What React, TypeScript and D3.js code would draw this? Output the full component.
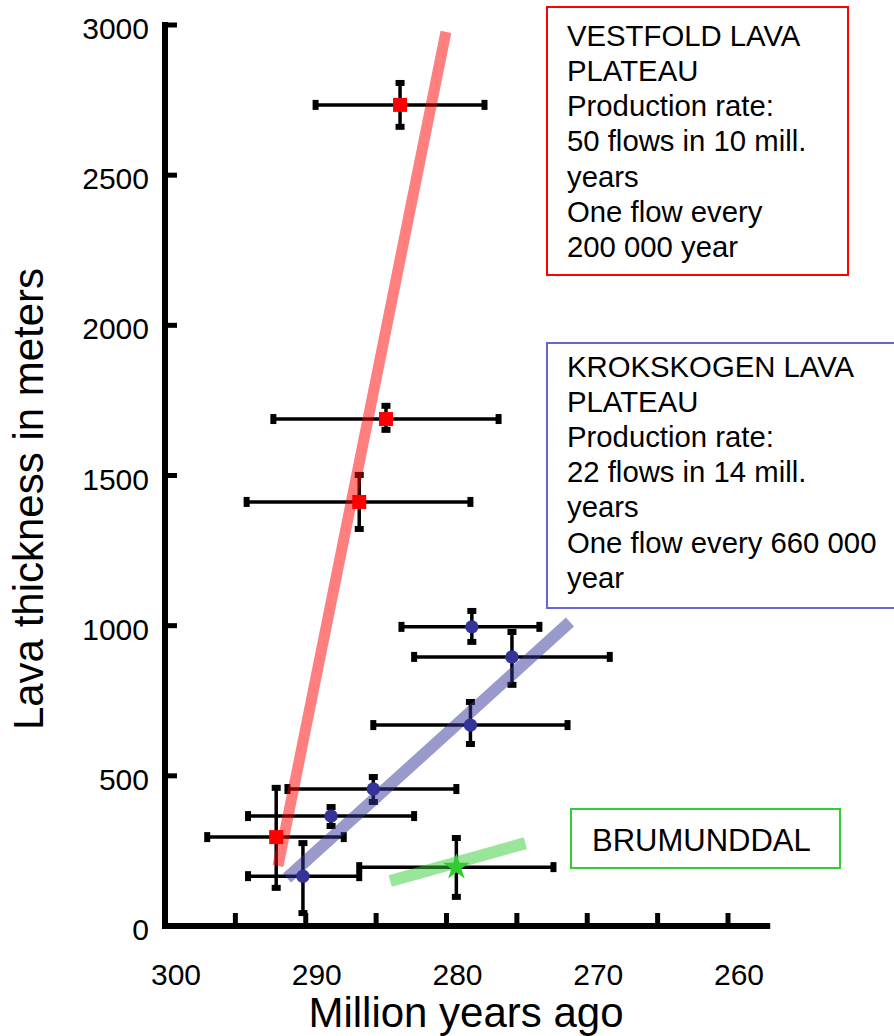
import React from 'react';
import * as d3 from 'd3';

// ---------- data ----------
const xTickMinor = [300, 295, 290, 285, 280, 275, 270, 265, 260];
const xTickLabels = [300, 290, 280, 270, 260];
const yTicks = [0, 500, 1000, 1500, 2000, 2500, 3000];

// age (Ma), thickness (m), age range, thickness range
const vestfold = [
  { age: 283.3, th: 2734, a0: 289.3, a1: 277.3, t0: 2661, t1: 2807 },
  { age: 284.3, th: 1688, a0: 292.3, a1: 276.3, t0: 1652, t1: 1732 },
  { age: 286.2, th: 1412, a0: 294.2, a1: 278.3, t0: 1322, t1: 1502 },
  { age: 292.1, th: 296, a0: 297.0, a1: 287.3, t0: 127, t1: 460 },
];
const krokskogen = [
  { age: 290.2, th: 166, a0: 294.1, a1: 286.2, t0: 43, t1: 276 },
  { age: 288.2, th: 366, a0: 294.1, a1: 282.3, t0: 333, t1: 396 },
  { age: 285.2, th: 456, a0: 291.3, a1: 279.3, t0: 413, t1: 496 },
  { age: 278.3, th: 669, a0: 285.2, a1: 271.4, t0: 606, t1: 746 },
  { age: 275.35, th: 896, a0: 282.3, a1: 268.4, t0: 803, t1: 979 },
  { age: 278.2, th: 996, a0: 283.2, a1: 273.4, t0: 946, t1: 1049 },
];
const brumunddal = [
  { age: 279.3, th: 196, a0: 286.2, a1: 272.4, t0: 97, t1: 293 },
];

const vestfoldTrend = [[291.97, 200], [280.04, 2977]];
const krokskogenTrend = [[291.33, 160], [271.23, 1012]];
const brumunddalTrend = [[284.0, 150], [274.4, 276]];

const vestfoldNote = ['VESTFOLD LAVA', 'PLATEAU', 'Production rate:', '50 flows in 10 mill.', 'years', 'One flow every', '200 000 year'];
const krokskogenNote = ['KROKSKOGEN LAVA', 'PLATEAU', 'Production rate:', '22 flows in 14 mill.', 'years', 'One flow every 660 000', 'year'];
const brumunddalNote = ['BRUMUNDDAL'];

// ---------- layout ----------
const W = 894;
const H = 1036;
const FONT = '"Liberation Sans", Arial, Helvetica, sans-serif';

const x = d3.scaleLinear().domain([300, 260]).range([165, 728]);
const y = d3.scaleLinear().domain([0, 3000]).range([926, 25]);
const xEnd = 257;

type Pt = { age: number; th: number; a0: number; a1: number; t0: number; t1: number };

function ErrorBars({ data }: { data: Pt[] }) {
  return (
    <g>
      {data.map((d, i) => {
        const cx = x(d.age), cy = y(d.th);
        const xa = x(d.a0), xb = x(d.a1);
        const ya = y(d.t0), yb = y(d.t1);
        return (
          <g key={i}>
            <line x1={xa} x2={xb} y1={cy} y2={cy} stroke="#000" strokeWidth={3.5} />
            <line x1={cx} x2={cx} y1={ya} y2={yb} stroke="#000" strokeWidth={3.5} />
            <rect x={xa - 3} y={cy - 5} width={6} height={10} fill="#000" />
            <rect x={xb - 3} y={cy - 5} width={6} height={10} fill="#000" />
            <rect x={cx - 4.5} y={ya - 3} width={9} height={6} fill="#000" />
            <rect x={cx - 4.5} y={yb - 3} width={9} height={6} fill="#000" />
          </g>
        );
      })}
    </g>
  );
}

const lineGen = d3.line<number[]>().x((d) => x(d[0])).y((d) => y(d[1]));

function NoteBox({ lines, x0, y0, w, h, color, base, step, size }: any) {
  return (
    <g>
      <rect x={x0} y={y0} width={w} height={h} fill="#fff" stroke={color} strokeWidth={2} />
      {lines.map((t: string, i: number) => (
        <text key={i} x={x0 + 20} y={base + i * step} fontSize={size} fontFamily={FONT} fill="#000">
          {t}
        </text>
      ))}
    </g>
  );
}

export default function App() {
  const star = d3.symbol().type(d3.symbolStar).size(220)() as string;
  return (
    <svg width={W} height={H} style={{ position: 'absolute', left: 0, top: 0, background: '#fff' }}>
      <rect x={0} y={0} width={W} height={H} fill="#fff" />

      {/* notes */}
      <NoteBox lines={vestfoldNote} x0={547} y0={7} w={301} h={268} color="#ff0000" base={45.5} step={35.3} size={29.3} />
      <NoteBox lines={krokskogenNote} x0={547} y0={343} w={360} h={265} color="#6666cc" base={376.5} step={35.2} size={29.3} />
      <g>
        <rect x={571} y={809} width={269} height={59} fill="#fff" stroke="#33cc33" strokeWidth={2} />
        <text x={592} y={851} fontSize={31} fontFamily={FONT} fill="#000">{brumunddalNote[0]}</text>
      </g>

      {/* axes */}
      <line x1={x(300)} x2={x(300)} y1={y(3000) - 3} y2={y(0) + 3} stroke="#000" strokeWidth={6} />
      <line x1={x(300) - 3} x2={x(xEnd)} y1={y(0)} y2={y(0)} stroke="#000" strokeWidth={6} />
      {yTicks.map((t) => (
        <g key={t}>
          {t > 0 && <line x1={x(300)} x2={x(300) + 12} y1={y(t)} y2={y(t)} stroke="#000" strokeWidth={5} />}
          <text x={149} y={y(t) + 14} textAnchor="end" fontSize={30} fontFamily={FONT} fill="#000">{t}</text>
        </g>
      ))}
      {xTickMinor.filter((t) => t < 300).map((t) => (
        <line key={t} x1={x(t)} x2={x(t)} y1={y(0)} y2={y(0) - 13} stroke="#000" strokeWidth={5} />
      ))}
      {xTickLabels.map((t) => (
        <text key={t} x={x(t) + 11} y={985} textAnchor="middle" fontSize={30} fontFamily={FONT} fill="#000">{t}</text>
      ))}
      <text x={466} y={1027} textAnchor="middle" fontSize={42} fontFamily={FONT} fill="#000">Million years ago</text>
      <text transform={`translate(43,499) rotate(-90)`} textAnchor="middle" fontSize={42} fontFamily={FONT} fill="#000">Lava thickness in meters</text>

      {/* error bars */}
      <ErrorBars data={vestfold} />
      <ErrorBars data={krokskogen} />
      <ErrorBars data={brumunddal} />

      {/* trend lines */}
      <path d={lineGen(vestfoldTrend) as string} stroke="#ff0000" strokeOpacity={0.5} strokeWidth={11} fill="none" />
      <path d={lineGen(krokskogenTrend) as string} stroke="#333399" strokeOpacity={0.5} strokeWidth={12} fill="none" />
      <path d={lineGen(brumunddalTrend) as string} stroke="#33cc33" strokeOpacity={0.5} strokeWidth={12} fill="none" />

      {/* markers */}
      {vestfold.map((d, i) => (
        <rect key={i} x={x(d.age) - 7} y={y(d.th) - 7} width={14} height={14} fill="#ff0000" />
      ))}
      {krokskogen.map((d, i) => (
        <circle key={i} cx={x(d.age)} cy={y(d.th)} r={6.7} fill="#333399" />
      ))}
      {brumunddal.map((d, i) => (
        <path key={i} d={star} transform={`translate(${x(d.age)},${y(d.th)})`} fill="#33cc33" />
      ))}
    </svg>
  );
}
